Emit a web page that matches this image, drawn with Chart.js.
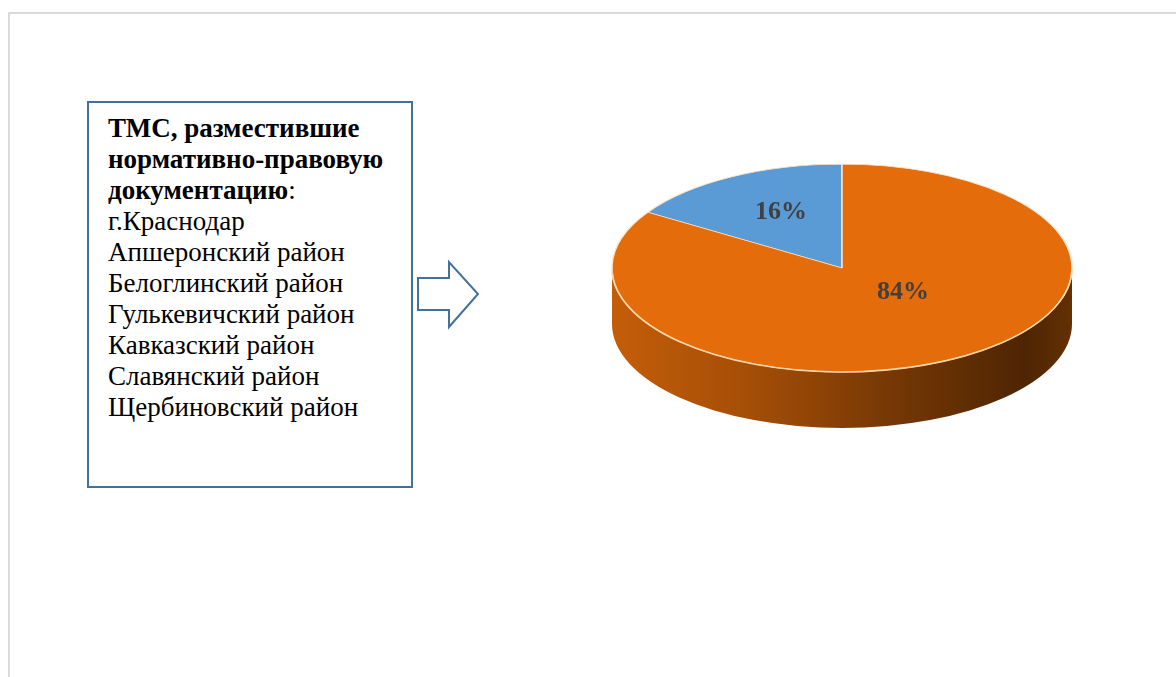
<!DOCTYPE html>
<html>
<head>
<meta charset="utf-8">
<script src="https://cdn.jsdelivr.net/npm/chart.js@4.4.1/dist/chart.umd.min.js"></script>
<style>
  html, body { margin:0; padding:0; background:#fff; width:1176px; height:677px; overflow:hidden; }
  #frame { position:absolute; left:8px; top:12px; right:0; bottom:0;
           border-top:2px solid #d9d9d9; border-left:2px solid #d9d9d9; }
  #box { position:absolute; left:87px; top:101px; width:303px; height:373px;
         border:2px solid #41719c; padding:10px 0 0 19px;
         font-family:"Liberation Serif","Times New Roman",serif; font-size:27px;
         line-height:31px; color:#000; white-space:nowrap; }
  #arrow { position:absolute; left:0; top:0; }
  #pie { position:absolute; left:602px; top:28px; }
</style>
</head>
<body>
<div id="frame"></div>
<div id="box"></div>
<svg id="arrow" width="1176" height="677">
  <polygon points="418,278 449,278 449,262 478,294 449,327 449,310 418,310"
           fill="#ffffff" stroke="#41719c" stroke-width="2" stroke-linejoin="miter"/>
</svg>
<canvas id="pie" width="480" height="480"></canvas>
<script>
// ---- data ----
const boxTitle = "ТМС, разместившие нормативно-правовую документацию";
const districts = [
  "г.Краснодар",
  "Апшеронский район",
  "Белоглинский район",
  "Гулькевичский район",
  "Кавказский район",
  "Славянский район",
  "Щербиновский район"
];
const categories = ["ТМС, разместившие нормативно-правовую документацию", "Остальные ТМС"];
const values = [16, 84];

// ---- text box ----
(function(){
  const box = document.getElementById('box');
  const t = boxTitle.split(' ');
  const titleHtml = '<b>' + t[0] + ' ' + t[1] + '<br>' + t[2] + '<br>' + t[3] + '</b>:';
  box.innerHTML = titleHtml + '<br>' + districts.join('<br>');
})();

// ---- 3D pie ----
const K = 0.452;      // vertical squash of the disk
const DEPTH = 56;     // thickness of the disk
const total = values.reduce((a, b) => a + b, 0);

function shade(hex, f) {
  const n = parseInt(hex.slice(1), 16);
  const r = Math.round(((n >> 16) & 255) * f), g = Math.round(((n >> 8) & 255) * f), b = Math.round((n & 255) * f);
  return 'rgb(' + r + ',' + g + ',' + b + ')';
}

const pie3d = {
  id: 'pie3d',
  beforeDatasetsDraw(chart) {
    const meta = chart.getDatasetMeta(0);
    const arcs = meta.data;
    const ctx = chart.ctx;
    if (!arcs.length) return;
    const cx = arcs[0].x, cy = arcs[0].y, r = arcs[0].outerRadius, ry = r * K;
    arcs.forEach((a, i) => {
      const col = chart.data.datasets[0].backgroundColor[i];
      const g = ctx.createLinearGradient(cx - r, 0, cx + r, 0);
      g.addColorStop(0, shade(col, 0.86));
      g.addColorStop(0.3, shade(col, 0.72));
      g.addColorStop(0.6, shade(col, 0.52));
      g.addColorStop(0.9, shade(col, 0.34));
      g.addColorStop(1, shade(col, 0.44));
      for (let n = -2; n <= 2; n++) {
        const s = a.startAngle + 2 * Math.PI * n, e = a.endAngle + 2 * Math.PI * n;
        const a0 = Math.max(s, 0), a1 = Math.min(e, Math.PI);
        if (a1 > a0) {
          ctx.beginPath();
          ctx.ellipse(cx, cy, r, ry, 0, a0, a1);
          ctx.ellipse(cx, cy + DEPTH, r, ry, 0, a1, a0, true);
          ctx.closePath();
          ctx.fillStyle = g;
          ctx.fill();
        }
      }
    });
    ctx.save();
    ctx.translate(cx, cy);
    ctx.scale(1, K);
    ctx.translate(-cx, -cy);
  },
  afterDatasetsDraw(chart) {
    const ctx = chart.ctx;
    const meta = chart.getDatasetMeta(0);
    const arcs = meta.data;
    if (!arcs.length) return;
    ctx.restore();
    const cx = arcs[0].x, cy = arcs[0].y, r = arcs[0].outerRadius, ry = r * K;
    // rim highlight on the front edge
    ctx.beginPath();
    ctx.ellipse(cx, cy, r, ry, 0, 0.02, Math.PI - 0.02);
    ctx.strokeStyle = 'rgba(255,214,170,0.95)';
    ctx.lineWidth = 1.6;
    ctx.stroke();
    // percentage labels
    ctx.font = 'bold 26px "Liberation Serif", "Times New Roman", serif';
    ctx.fillStyle = '#404040';
    ctx.textAlign = 'center';
    ctx.textBaseline = 'middle';
    arcs.forEach((a, i) => {
      const m = (a.startAngle + a.endAngle) / 2;
      const f = 0.55;
      const x = cx + f * r * Math.cos(m);
      const y = cy - 16 + f * r * K * 0.8 * Math.sin(m);
      ctx.fillText(Math.round(values[i] / total * 100) + '%', x, y);
    });
  }
};

new Chart(document.getElementById('pie'), {
  type: 'pie',
  data: {
    labels: categories,
    datasets: [{
      data: values,
      backgroundColor: ['#5b9bd5', '#e46c0a'],
      borderColor: '#fde3cc',
      borderWidth: 1.5
    }]
  },
  options: {
    responsive: false,
    devicePixelRatio: 1,
    animation: false,
    events: [],
    radius: 230,
    rotation: -values[0] / total * 360,
    layout: { padding: 0 },
    plugins: { legend: { display: false }, tooltip: { enabled: false } }
  },
  plugins: [pie3d]
});
</script>
</body>
</html>
